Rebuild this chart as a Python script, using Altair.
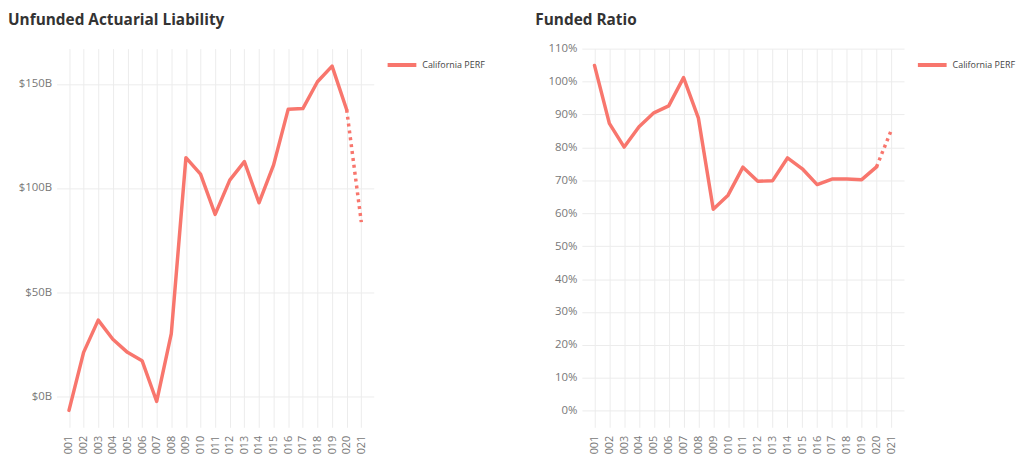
import altair as alt
import pandas as pd

years = ["001", "002", "003", "004", "005", "006", "007", "008", "009", "010", "011",
         "012", "013", "014", "015", "016", "017", "018", "019", "020", "021"]
unfunded_b = [-6.9, 21.0, 36.5, 27.3, 21.0, 17.0, -2.6, 30.0, 114.6, 106.7, 87.3,
              103.8, 112.7, 92.9, 111.1, 137.9, 138.2, 151.1, 158.6, 137.6, 83.6]
funded_pct = [104.9, 87.3, 80.1, 86.3, 90.5, 92.6, 101.2, 88.9, 61.2, 65.5, 74.0,
              69.7, 69.9, 76.8, 73.5, 68.7, 70.4, 70.4, 70.2, 74.1, 85.3]
series = "California PERF"
COLOR = "#F8766D"
FONT = "Open Sans"


def make_df(vals):
    rows = []
    for i, (y, v) in enumerate(zip(years, vals)):
        if i <= len(years) - 2:
            rows.append({"year": y, "value": v, "part": "actual", "series": series})
        if i >= len(years) - 2:
            rows.append({"year": y, "value": v, "part": "estimate", "series": series})
    return pd.DataFrame(rows)


def panel(vals, title, domain, ticks, label_expr, min_extent, width, title_offset):
    df = make_df(vals)
    x = alt.X("year:O", title=None,
              scale=alt.Scale(type="point", padding=0.85),
              axis=alt.Axis(labelAngle=-90, labelPadding=8, ticks=False, domain=False,
                            grid=True, gridColor="#ececec", labelColor="#777777",
                            labelFontSize=11, labelFont=FONT))
    y = alt.Y("value:Q", title=None,
              scale=alt.Scale(domain=domain, nice=False, zero=False),
              axis=alt.Axis(values=ticks, labelExpr=label_expr, ticks=False, domain=False,
                            grid=True, gridColor="#ececec", labelColor="#777777",
                            labelFontSize=11.5, labelFont=FONT, labelPadding=5,
                            labelOverlap=False, minExtent=min_extent))
    base = alt.Chart(df).encode(x=x, y=y)
    solid = base.transform_filter(alt.datum.part == "actual").mark_line(
        strokeWidth=3.5, strokeCap="round", strokeJoin="round"
    ).encode(
        color=alt.Color("series:N", scale=alt.Scale(range=[COLOR]),
                        legend=alt.Legend(title=None, symbolType="stroke", symbolSize=841,
                                          symbolStrokeWidth=4, labelFont=FONT,
                                          labelFontSize=9, labelColor="#444444",
                                          labelOffset=4, offset=12, padding=0))
    )
    dotted = base.transform_filter(alt.datum.part == "estimate").mark_line(
        strokeWidth=3.5, strokeDash=[3, 4], color=COLOR
    )
    return alt.layer(solid, dotted).properties(
        width=width, height=382,
        view=alt.ViewBackground(stroke="transparent", strokeWidth=0),
        title=alt.TitleParams(title, anchor="start", frame="bounds", font=FONT,
                              fontSize=15.5, fontWeight="bold", color="#333333",
                              lineHeight=15.5, baseline="top",
                              offset=title_offset)
    )


left = panel(unfunded_b, "Unfunded Actuarial Liability", [-15, 167], [0, 50, 100, 150],
             "'$' + datum.value + 'B'", 49, 320, 20)
right = panel(funded_pct, "Funded Ratio", [-5, 110], list(range(0, 111, 10)),
              "datum.value + '%'", 47, 325, 14)

chart = alt.hconcat(left, right, spacing=50).resolve_scale(
    color="independent"
).resolve_legend(color="independent").properties(
    padding={"left": 0, "right": 0, "top": 3, "bottom": 0}
).configure_view(
    strokeWidth=0, stroke="transparent"
).configure(font=FONT)
chart.save("out.html", embed_options={"renderer": "svg", "actions": False})
